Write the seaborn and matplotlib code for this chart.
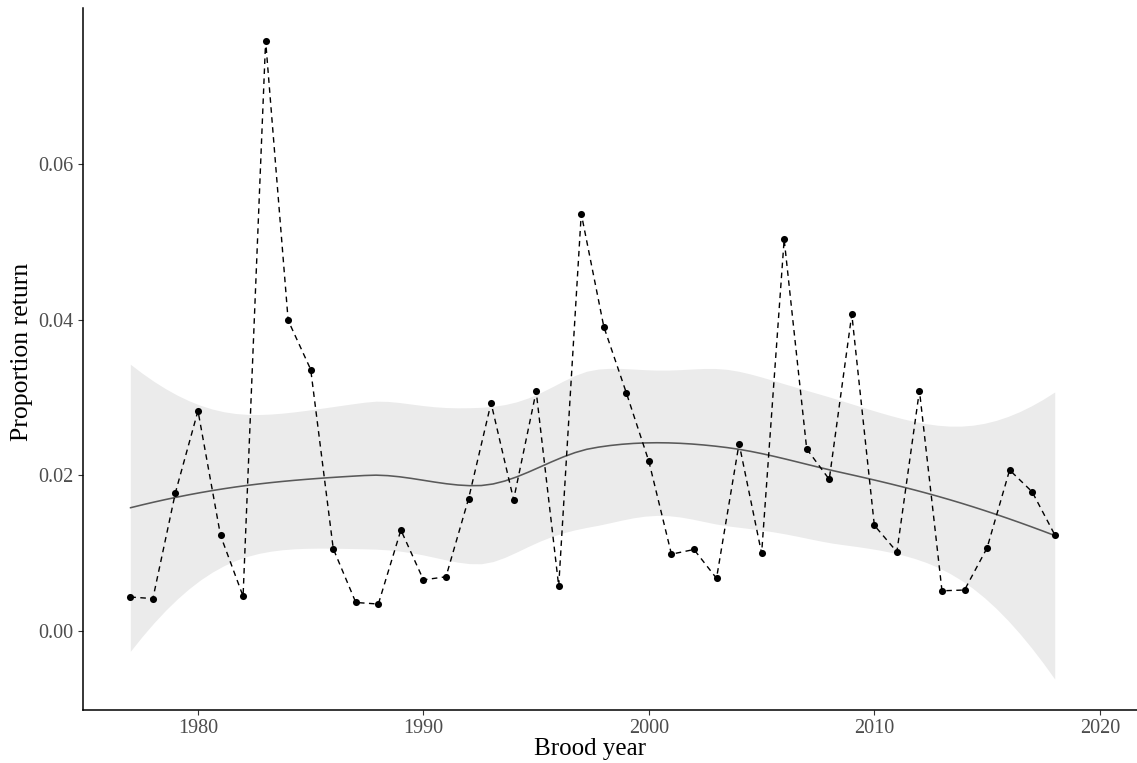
import math

import matplotlib
matplotlib.use("Agg")
import matplotlib.pyplot as plt
import numpy as np
import pandas as pd
import seaborn as sns

# Brood years and the proportion of fish returning from each brood
brood_year = list(range(1977, 2019))
proportion_return = [
    0.0044, 0.0042, 0.0178, 0.0283, 0.0123, 0.0045, 0.0758, 0.0399, 0.0336, 0.0106,
    0.0037, 0.0035, 0.0130, 0.0066, 0.0070, 0.0170, 0.0293, 0.0169, 0.0308, 0.0058,
    0.0536, 0.0391, 0.0306, 0.0218, 0.0099, 0.0105, 0.0068, 0.0241, 0.0100, 0.0503,
    0.0234, 0.0195, 0.0407, 0.0136, 0.0102, 0.0309, 0.0052, 0.0053, 0.0107, 0.0207,
    0.0179, 0.0124,
]

x_ticks = [1980, 1990, 2000, 2010, 2020]
y_ticks = [0.00, 0.02, 0.04, 0.06]
y_tick_labels = ["0.00", "0.02", "0.04", "0.06"]

df = pd.DataFrame({"year": brood_year, "prop": proportion_return})


def local_rows(x, x0, q):
    """Value and slope rows of a tricube-weighted local quadratic fit at x0."""
    n = len(x)
    d = np.abs(x - x0)
    h = np.sort(d)[q - 1]
    w = np.clip(1.0 - (d / h) ** 3, 0.0, None) ** 3
    X = np.column_stack([np.ones(n), x - x0, (x - x0) ** 2])
    XtW = X.T * w
    B = np.linalg.solve(XtW @ X, XtW)
    return B[0], B[1]


def kd_vertices(xs, fc):
    """Cell boundaries of a 1-d k-d tree, as used by loess interpolation."""
    mu = 0.005 * (xs[-1] - xs[0])
    verts = {xs[0] - mu, xs[-1] + mu}

    def split(lo, hi):
        if hi - lo + 1 <= fc:
            return
        m = (lo + hi) // 2
        verts.add(0.5 * (xs[m] + xs[m + 1]))
        split(lo, m)
        split(m + 1, hi)

    split(0, len(xs) - 1)
    return np.array(sorted(verts))


def loess_operator(x, x_eval, span=0.75, cell=0.2):
    """Smoothing operator rows via cubic Hermite interpolation between vertices."""
    n = len(x)
    q = int(math.floor(n * span + 1e-5))
    fc = int(math.floor(n * span * cell))
    verts = kd_vertices(np.sort(x), fc)
    vals, slopes = zip(*(local_rows(x, v, q) for v in verts))
    rows = []
    for x0 in x_eval:
        k = min(max(np.searchsorted(verts, x0) - 1, 0), len(verts) - 2)
        a, b = verts[k], verts[k + 1]
        hh = b - a
        t = (x0 - a) / hh
        h00 = 2 * t ** 3 - 3 * t ** 2 + 1
        h10 = t ** 3 - 2 * t ** 2 + t
        h01 = -2 * t ** 3 + 3 * t ** 2
        h11 = t ** 3 - t ** 2
        rows.append(h00 * vals[k] + h10 * hh * slopes[k]
                    + h01 * vals[k + 1] + h11 * hh * slopes[k + 1])
    return np.array(rows)


def t_quantile(p, dof):
    c = math.exp(math.lgamma((dof + 1) / 2) - math.lgamma(dof / 2)) / math.sqrt(dof * math.pi)

    def cdf(t):
        u = np.linspace(0.0, t, 4001)
        return 0.5 + np.trapezoid(c * (1 + u ** 2 / dof) ** (-(dof + 1) / 2), u)

    lo, hi = 0.0, 10.0
    for _ in range(60):
        mid = 0.5 * (lo + hi)
        if cdf(mid) < p:
            lo = mid
        else:
            hi = mid
    return 0.5 * (lo + hi)


# Loess smooth with a 95% confidence band
x = df["year"].to_numpy(float)
y = df["prop"].to_numpy(float)
grid = np.linspace(x.min(), x.max(), 80)
L = loess_operator(x, x)
G = loess_operator(x, grid)
resid = y - L @ y
M = np.eye(len(x)) - L
A = M.T @ M
delta1 = np.trace(A)
delta2 = np.trace(A @ A)
sigma2 = np.sum(resid ** 2) / delta1
fit = G @ y
se = np.sqrt(sigma2 * np.sum(G ** 2, axis=1))
tq = t_quantile(0.975, delta1 ** 2 / delta2)
smooth = pd.DataFrame({"year": grid, "fit": fit, "lo": fit - tq * se, "hi": fit + tq * se})

sns.set_theme(style="ticks")
plt.rcParams["font.family"] = ["Liberation Serif", "DejaVu Serif"]

W, H = 1137, 763
fig = plt.figure(figsize=(W / 100, H / 100), dpi=100)
ax = fig.add_axes([83 / W, 53 / H, (W - 83) / W, (710 - 8) / H])

ax.fill_between(smooth["year"], smooth["lo"], smooth["hi"], color="#EBEBEB", lw=0, zorder=1)
sns.lineplot(data=smooth, x="year", y="fit", ax=ax, color="#595959", lw=1.15, zorder=2)
sns.lineplot(data=df, x="year", y="prop", ax=ax, color="black", lw=1.0,
             dashes=False, zorder=3).lines[-1].set_dashes((4, 3.2))
sns.scatterplot(data=df, x="year", y="prop", ax=ax, color="black", s=26,
                edgecolor="black", linewidth=0, zorder=4)

ax.set_xlim(1974.9, 2021.65)
ax.set_ylim(-0.0101, 0.0800)
ax.set_xticks(x_ticks)
ax.set_yticks(y_ticks)
ax.set_yticklabels(y_tick_labels)

for side in ("top", "right"):
    ax.spines[side].set_visible(False)
for side in ("left", "bottom"):
    ax.spines[side].set_color("black")
    ax.spines[side].set_linewidth(1.1)

ax.tick_params(axis="both", direction="out", length=3.6, width=0.8, color="#333333",
               labelsize=14.5, labelcolor="#4D4D4D", pad=3.0)

ax.set_xlabel("Brood year", fontsize=18, color="black")
ax.set_ylabel("Proportion return", fontsize=18.5, color="black")
ax.xaxis.set_label_coords((590 - 83) / (W - 83), -(755 - 710) / (710 - 8))
ax.yaxis.set_label_coords(-(83 - 22) / (W - 83), (710 - 352) / (710 - 8))
ax.xaxis.label.set_va("baseline")
ax.yaxis.label.set_va("center")

fig.savefig("out.png", dpi=100)
